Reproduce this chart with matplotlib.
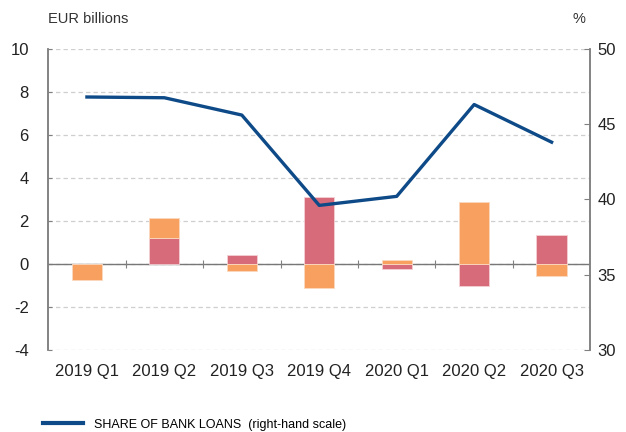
import numpy as np
import matplotlib.pyplot as plt
from matplotlib.lines import Line2D

plt.rcParams['font.family'] = ['Liberation Sans', 'DejaVu Sans']
plt.rcParams['axes.unicode_minus'] = False

quarters = ['2019 Q1', '2019 Q2', '2019 Q3', '2019 Q4', '2020 Q1', '2020 Q2', '2020 Q3']
red_vals = [0.0, 1.2, 0.42, 3.1, -0.23, -1.02, 1.35]
orange_vals = [-0.75, 0.95, -0.33, -1.1, 0.19, 2.88, -0.56]
share_bank_loans = [46.8, 46.75, 45.6, 39.6, 40.2, 46.3, 43.8]

RED = '#d76b7a'
ORANGE = '#f7a05f'
BLUE = '#0d4a87'
GREY = '#808080'
TEXT = '#222222'

fig = plt.figure(figsize=(6.26, 4.32), dpi=100)
ax = fig.add_axes([0.077, 0.19, 0.866, 0.697])
ax2 = ax.twinx()

x = np.arange(len(quarters))
red = np.array(red_vals)
orange = np.array(orange_vals)
# stack positives and negatives separately
orange_base = np.where(np.sign(orange) == np.sign(red), red, 0.0)

ax.bar(x, red, 0.39, color=RED, edgecolor='#f4d0d5', linewidth=0.6, zorder=3)
ax.bar(x, orange, 0.39, bottom=orange_base, color=ORANGE, edgecolor='#fbd9bf',
       linewidth=0.6, zorder=3)

ax.set_ylim(-4, 10)
ax.set_xlim(-0.5, len(quarters) - 0.5)
ax.set_yticks(range(-4, 11, 2))
ax.set_xticks(x)
ax.set_xticklabels(quarters)
ax.tick_params(axis='x', length=0, pad=10, labelsize=12, labelcolor=TEXT)
ax.tick_params(axis='y', direction='in', length=3, color=GREY, labelsize=12,
               pad=14, labelcolor=TEXT)
ax.grid(axis='y', color='#cfcfcf', linestyle=(0, (3.5, 2.5)), linewidth=0.9, zorder=0)
ax.axhline(0, color='#777777', linewidth=1.0, zorder=2)
ax.vlines(np.arange(0.5, len(quarters)), -0.2, 0.2, color=GREY, linewidth=0.8, zorder=2)

for a in (ax, ax2):
    a.spines['top'].set_visible(False)
    a.spines['bottom'].set_visible(False)
    a.spines['left'].set_color(GREY)
    a.spines['right'].set_color(GREY)
    a.spines['left'].set_linewidth(1.1)
    a.spines['right'].set_linewidth(1.1)

ax2.plot(x, share_bank_loans, color=BLUE, linewidth=2.4, zorder=4)
ax2.set_ylim(30, 50)
ax2.set_yticks(range(30, 51, 5))
ax2.tick_params(axis='y', direction='in', length=4, color=GREY, labelsize=12,
                pad=5, labelcolor=TEXT)

fig.text(0.077, 0.955, 'EUR billions', fontsize=10.5, color='#333333', va='center')
fig.text(0.935, 0.955, '%', fontsize=10.5, color='#333333', va='center', ha='right')

handle = Line2D([], [], color=BLUE, linewidth=3)
fig.legend([handle], ['SHARE OF BANK LOANS  (right-hand scale)'], loc='center left',
           bbox_to_anchor=(0.05, 0.017), frameon=False, handlelength=3.2,
           handletextpad=0.9, prop={'size': 9})

fig.savefig('out.png', dpi=100)
